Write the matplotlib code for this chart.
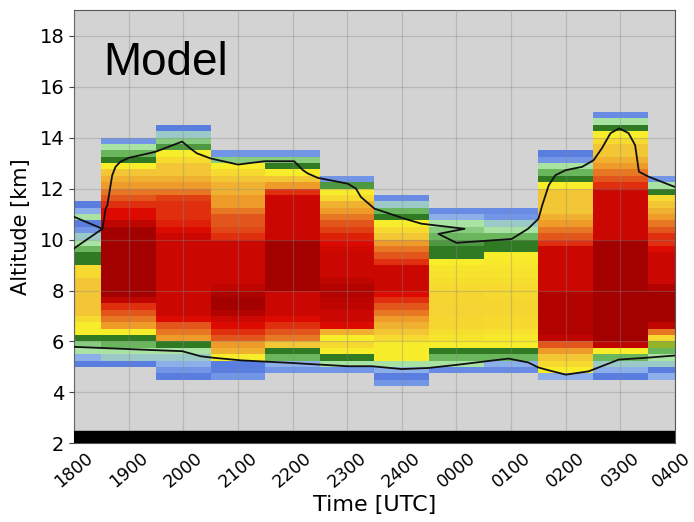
import numpy as np
import matplotlib
matplotlib.use('Agg')
import matplotlib.pyplot as plt
import matplotlib.transforms as mtransforms
from matplotlib.colors import LinearSegmentedColormap

# time labels, one column per hour
time_labels = ['1800', '1900', '2000', '2100', '2200', '2300', '2400',
               '0000', '0100', '0200', '0300', '0400']

# lowest altitude of each column [km], rows are 0.25 km thick
col_base = [5.0, 5.0, 4.5, 4.5, 4.75, 4.75, 4.25, 4.75, 4.75, 4.5, 4.5, 4.5]
dz = 0.25

# colour index per row, bottom to top (0 blue ... 10 dark red)
col_values = [
    [0, 1, 2, 2.5, 4, 5, 5, 5.5, 6, 6, 6, 6, 6, 6, 5.5, 5.5, 4, 4, 3, 2,
     1.5, 0.5, 0, 2, 1, 0],
    [0, 1.5, 2, 3, 4, 5, 7, 7.5, 8, 8.5, 9.5] + [10] * 11 +
    [9.5, 9, 9, 8.5, 8, 7.5, 7, 6.5, 6, 5, 4, 3, 2, 0.5],
    [0, 0.5, 1, 1.5, 2, 4, 7, 7.5, 8, 9] + [9.3] * 13 +
    [9, 8.7, 8.5, 8.5, 8.5, 8.3, 7.5, 7, 6.5, 6, 6, 5.5, 5, 3.5, 2.5, 1.5, 0],
    [0.5, 0, 0, 5, 6.5, 7, 8, 8.5, 9, 9.3, 9.7, 10, 10, 9.8, 9.5] + [9.3] * 7 +
    [8.5, 8.2, 8, 8, 7.5, 7, 7, 6.5, 6.5, 6, 5.5, 5, 2.5, 0.5],
    [0.5, 1, 3, 4, 6, 7.5, 8, 8.5, 9] + [9.3] * 4 + [10] * 8 + [9.3] * 7 +
    [8.5, 7, 6, 5, 4, 2.5, 0.5],
    [0.5, 2, 4, 5, 5.5, 5, 6.5, 9, 9.3, 9.3, 9.5, 9.6, 9.7, 9.7, 9.5, 9.3,
     9.3, 9.3, 9.3, 9.2, 9, 8.7, 8.3, 8, 7.5, 7, 6.5, 5.5, 5, 3.5, 0.5],
    [0.5, 0, 1, 2, 5, 5, 5, 5.5, 6, 6.5, 7, 7.5, 8, 8.5, 9] + [9.3] * 4 +
    [8.5, 8, 7.5, 7, 6, 5.5, 5, 4, 3, 1.5, 0.3],
    [0.3, 2, 3, 4, 5, 5.2, 5.4, 5.6, 5.6, 5.7, 5.7, 5.6, 5.6, 5.5, 5.4, 5.3,
     5.2, 5, 4, 4, 3.5, 3, 2.5, 2, 1, 0.3],
    [0.3, 1, 3, 4, 5, 5.1, 5.3, 5.5, 5.5, 5.6, 5.6, 5.6, 5.5, 5.5, 5.4, 5.3,
     5.2, 5.1, 5, 4, 4, 3, 2, 1.5, 0.5, 0.3],
    [1, 5, 5.5, 6, 7, 8, 9.5] + [9.7] * 7 + [9.3] * 7 +
    [8.5, 8, 7.5, 7, 6.5] + [6] * 4 + [5, 4, 3, 2, 0.5, 0],
    [0, 1, 1.5, 3, 5, 9.5] + [10] * 16 + [9.3] * 8 +
    [8.5, 8, 7.5, 7, 6.5, 6, 6, 5.5, 5, 4, 2, 0.3],
    [1, 0, 1.5, 2, 3, 4.5, 5.5, 7.5, 9.5] + [10] * 5 + [9.7] + [9.3] * 5 +
    [9, 8.5, 8.5, 8, 7.5, 7, 6.5, 6, 5.5, 4, 2, 0.5],
]

# black contour lines (hours since 1800, km)
top_x = [0.52, 0.58, 0.61, 0.66, 0.70, 0.76, 0.85, 1.0, 1.49, 1.98, 2.13, 2.25,
         2.50, 3.0, 3.49, 4.03, 4.19, 4.28, 4.46, 5.01, 5.16, 5.25, 5.50, 6.06,
         6.36, 7.15, 6.67, 7.0, 8.01, 8.31, 8.50, 8.57, 8.69, 8.81, 9.0, 9.30,
         9.51, 9.66, 9.82, 9.98, 10.15, 10.27, 10.34, 10.52, 11.0]
top_z = [10.42, 11.21, 11.34, 12.0, 12.52, 12.85, 13.05, 13.2, 13.44, 13.84,
         13.57, 13.38, 13.18, 12.94, 13.07, 13.07, 12.72, 12.59, 12.42, 12.19,
         12.0, 11.67, 11.21, 10.81, 10.62, 10.42, 10.22, 9.87, 10.02, 10.42,
         10.81, 11.34, 12.13, 12.52, 12.72, 12.85, 13.11, 13.57, 14.17, 14.36,
         14.17, 13.7, 12.66, 12.46, 12.06]
left_x = [0.0, 0.52, 0.0]
left_z = [10.89, 10.42, 9.65]
base_x = [0.0, 1.49, 1.98, 2.32, 2.56, 3.06, 3.97, 5.01, 5.45, 6.0, 6.48,
          7.03, 7.95, 8.31, 8.50, 8.69, 9.0, 9.42, 9.66, 9.97, 10.46, 11.0]
base_z = [5.79, 5.66, 5.62, 5.42, 5.36, 5.26, 5.16, 5.03, 5.03, 4.92, 4.96,
          5.09, 5.33, 5.18, 4.98, 4.87, 4.70, 4.83, 5.03, 5.29, 5.36, 5.45]

ground_top = 2.5

colors = ['#5a7ee0', '#8db0ea', '#a8e3a4', '#69b55c', '#2f7a22', '#f8ee2a',
          '#f3c636', '#ee9c2a', '#e2561c', '#dd0a00', '#a30000']
cmap = LinearSegmentedColormap.from_list('cloud', colors)

z_edges = np.arange(4.0, 15.25 + dz / 2, dz)
grid = np.full((len(z_edges) - 1, len(time_labels)), np.nan)
for i, (b, vals) in enumerate(zip(col_base, col_values)):
    j0 = int(round((b - z_edges[0]) / dz))
    grid[j0:j0 + len(vals), i] = vals
x_edges = np.arange(len(time_labels) + 1) - 0.5

fig = plt.figure(figsize=(6.94, 5.22), dpi=100)
ax = fig.add_axes([0.1066, 0.1504, 0.866, 0.8304])
ax.set_facecolor('#d3d3d3')
ax.pcolormesh(x_edges, z_edges, np.ma.masked_invalid(grid), cmap=cmap,
              vmin=0, vmax=10, shading='flat')
ax.axhspan(2, ground_top, color='black', zorder=3)
ax.plot(top_x, top_z, color='#111111', lw=1.3, zorder=4)
ax.plot(left_x, left_z, color='#111111', lw=1.3, zorder=4)
ax.plot(base_x, base_z, color='#111111', lw=1.3, zorder=4)

ax.set_xlim(0, len(time_labels) - 1)
ax.set_ylim(2, 19)
ax.set_xticks(range(len(time_labels)))
ax.set_xticklabels(time_labels, rotation=40, ha='center')
ax.set_yticks(range(2, 19, 2))
ax.tick_params(axis='y', labelsize=14, length=3.5, color='#444444')
ax.tick_params(axis='x', labelsize=12.5, length=0, pad=4)
# keep the last label inside the figure
last = ax.get_xticklabels()[-1]
last.set_transform(last.get_transform() +
                   mtransforms.ScaledTranslation(-4 / 100, 0, fig.dpi_scale_trans))
ax.grid(True, color='#888888', alpha=0.35, lw=0.9, zorder=5)
ax.set_axisbelow(False)
for s in ax.spines.values():
    s.set_color('#555555')

ax.set_xlabel('Time [UTC]', fontsize=16, labelpad=3)
ax.set_ylabel('Altitude [km]', fontsize=15, labelpad=6)
ax.text(0.048, 0.85, 'Model', transform=ax.transAxes, fontsize=33,
        family='Liberation Sans', zorder=6)

fig.savefig('out.png', dpi=100)
